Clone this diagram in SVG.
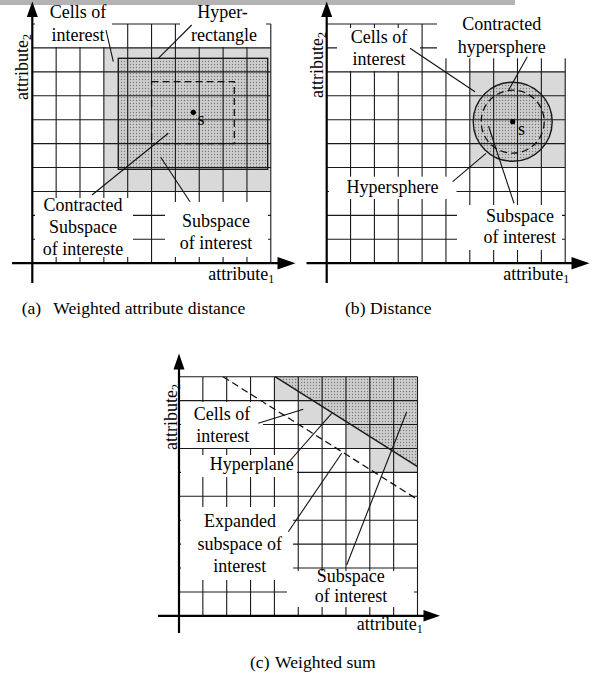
<svg xmlns="http://www.w3.org/2000/svg" xmlns:xlink="http://www.w3.org/1999/xlink" width="593" height="681" viewBox="0 0 593 681">
<style>
.grid{fill:none;stroke:#1a1a1a;stroke-width:1.1}
.axis{fill:none;stroke:#000;stroke-width:2.2}
.arrow{fill:#000;stroke:none}
.cells{fill:#d9d9d9;stroke:none}
.dots{fill:url(#stipple)}
.edge{fill:none;stroke:#1a1a1a;stroke-width:1.4}
.dash{fill:none;stroke:#111;stroke-width:1.3;stroke-dasharray:7,4}
.box{fill:#fff;stroke:none}
.lead{fill:none;stroke:#111;stroke-width:1.1}
text{font-family:"Liberation Serif","Times New Roman",serif;font-size:18px;fill:#000}
.c{text-anchor:middle}
.sub{font-size:12px}
.cap{font-size:17.6px}
</style>
<defs>
<pattern id="stipple" width="3" height="3" patternUnits="userSpaceOnUse">
<rect width="3" height="3" fill="#cdcdcd"/>
<circle cx="1.5" cy="1.5" r="0.7" fill="#7c7c7c"/>
</pattern>
<path id="gridlines" d="M23.85 0V239.2M47.7 0V239.2M71.55 0V239.2M95.4 0V239.2M119.25 0V239.2M143.1 0V239.2M166.95 0V239.2M190.8 0V239.2M214.65 0V239.2M238.5 0V239.2M0 0H238.5M0 23.92H238.5M0 47.84H238.5M0 71.76H238.5M0 95.68H238.5M0 119.6H238.5M0 143.52H238.5M0 167.44H238.5M0 191.36H238.5M0 215.28H238.5"/>
</defs>
<rect width="593" height="681" fill="#fff"/>

<!-- Panel (a) -->
<g id="panel-a">
<rect id="a-cells-of-interest" class="cells" x="103.85" y="47.92" width="166.95" height="143.52"/>
<rect id="a-hyperrectangle" class="dots" x="118.3" y="58.3" width="149.4" height="111"/>
<use xlink:href="#gridlines" class="grid" transform="translate(32.3,24)"/>
<rect class="edge" x="118.3" y="58.3" width="149.4" height="111"/>
<rect id="a-contracted" class="dash" x="151.55" y="81.7" width="82.75" height="61.9"/>
<circle id="a-s" cx="193.3" cy="112.3" r="2.6" fill="#000"/>
<text x="197.5" y="125">s</text>
<line class="axis" x1="32.3" y1="283" x2="32.3" y2="15"/>
<line class="axis" x1="12" y1="263.2" x2="280" y2="263.2"/>
<polygon class="arrow" points="295.5,263.2 277.5,257 277.5,269.5"/>
</g>

<!-- Panel (b) -->
<g id="panel-b">
<rect id="b-cells-of-interest" class="cells" x="469.8" y="71.84" width="95.4" height="95.68"/>
<circle id="b-hypersphere" class="dots" cx="512.7" cy="121.7" r="39.5"/>
<use xlink:href="#gridlines" class="grid" transform="translate(326.7,24)"/>
<circle class="edge" cx="512.7" cy="121.7" r="39.5"/>
<circle id="b-contracted" class="dash" cx="512.7" cy="121.7" r="31.5"/>
<circle id="b-s" cx="512.7" cy="121.7" r="2.6" fill="#000"/>
<text x="518" y="134.5">s</text>
<line class="axis" x1="326.7" y1="283" x2="326.7" y2="15"/>
<line class="axis" x1="306.5" y1="263.2" x2="574" y2="263.2"/>
<polygon class="arrow" points="589.5,263.2 571.5,257 571.5,269.5"/>
</g>

<!-- Panel (c) -->
<g id="panel-c">
<polygon id="c-cells-of-interest" class="cells" points="274.4,376.7 274.4,400.62 298.25,400.62 298.25,424.54 345.95,424.54 345.95,448.46 369.8,448.46 369.8,472.38 417.5,472.38 417.5,376.7"/>
<polygon id="c-subspace" class="dots" points="275,376.7 417.5,376.7 417.5,466.7"/>
<use xlink:href="#gridlines" class="grid" transform="translate(179,376.7)"/>
<line id="c-hyperplane" class="edge" x1="275" y1="376.7" x2="417.5" y2="466.7"/>
<line id="c-expanded" class="dash" x1="223" y1="376.7" x2="417.5" y2="499.5"/>
<line class="axis" x1="179" y1="633" x2="179" y2="368"/>
<polygon class="arrow" points="179,353.5 173.5,369.5 184.5,369.5"/>
<line class="axis" x1="158" y1="615.8" x2="425" y2="615.8"/>
<polygon class="arrow" points="440,615.8 423.5,610 423.5,621.6"/>
</g>

<!-- label backgrounds -->
<g id="label-boxes">
<rect class="box" x="35" y="3" width="77" height="44"/>
<rect class="box" x="180" y="3" width="86" height="44"/>
<rect class="box" x="35" y="198" width="98" height="59"/>
<rect class="box" x="165" y="202" width="103" height="55"/>
<rect class="box" x="337" y="28" width="83" height="43"/>
<rect class="box" x="437" y="0" width="135" height="58.3"/>
<rect class="box" x="329" y="176.7" width="127.5" height="22.3"/>
<rect class="box" x="457" y="205" width="105" height="45"/>
<rect class="box" x="181" y="402" width="82" height="46"/>
<rect class="box" x="181" y="455" width="116" height="22"/>
<rect class="box" x="181" y="507" width="112" height="73"/>
<rect class="box" x="287" y="571" width="127" height="36"/>
</g>

<rect id="top-bar" x="0" y="0" width="515" height="5" fill="#b3b3b3"/>
<polygon class="arrow" points="32.3,1.5 26.8,17 37.8,17"/>
<polygon class="arrow" points="326.7,1.5 321.2,17 332.2,17"/>

<!-- connectors -->
<g id="connectors">
<line class="lead" x1="106" y1="30" x2="113.3" y2="61.7"/>
<line class="lead" x1="191.7" y1="25" x2="158.3" y2="58.3"/>
<line class="lead" x1="92" y1="195" x2="168.3" y2="133.3"/>
<line class="lead" x1="160.7" y1="157.3" x2="190" y2="201.7"/>
<line class="lead" x1="410" y1="48.3" x2="475" y2="91.7"/>
<line class="lead" x1="527.3" y1="56.7" x2="508.3" y2="90.7"/>
<line class="lead" x1="452.7" y1="181.7" x2="486" y2="153.3"/>
<line class="lead" x1="514" y1="203.3" x2="488.5" y2="126"/>
<line class="lead" x1="258.3" y1="423.3" x2="303.3" y2="409.3"/>
<line class="lead" x1="288" y1="463" x2="331.7" y2="413.3"/>
<line class="lead" x1="288.3" y1="531.7" x2="341.7" y2="453.3"/>
<line class="lead" x1="346.7" y1="565" x2="406.7" y2="411.7"/>
</g>

<!-- labels -->
<g id="label-a-cells"><text class="c" x="78" y="18.3">Cells of</text><text class="c" x="78" y="40.5">interest</text></g>
<g id="label-a-hyper"><text class="c" x="222.5" y="18.3">Hyper-</text><text class="c" x="224" y="40.5">rectangle</text></g>
<g id="label-a-contracted"><text class="c" x="83" y="210.5">Contracted</text><text class="c" x="83" y="233">Subspace</text><text class="c" x="83" y="255">of intereste</text></g>
<g id="label-a-subspace"><text class="c" x="216" y="227">Subspace</text><text class="c" x="216" y="249">of interest</text></g>
<g id="label-a-axes"><text x="208.3" y="280">attribute<tspan class="sub" dy="3">1</tspan></text><text transform="translate(28,100) rotate(-90)">attribute<tspan class="sub" dy="3">2</tspan></text></g>

<g id="label-b-contracted"><text class="c" x="501.7" y="30">Contracted</text><text class="c" x="501.7" y="53">hypersphere</text></g>
<g id="label-b-cells"><text class="c" x="379" y="43">Cells of</text><text class="c" x="379" y="65">interest</text></g>
<g id="label-b-hypersphere"><text class="c" x="392.5" y="193.3">Hypersphere</text></g>
<g id="label-b-subspace"><text class="c" x="520" y="221.7">Subspace</text><text class="c" x="519.7" y="243.3">of interest</text></g>
<g id="label-b-axes"><text x="503.3" y="280">attribute<tspan class="sub" dy="3">1</tspan></text><text transform="translate(323,98) rotate(-90)">attribute<tspan class="sub" dy="3">2</tspan></text></g>

<g id="label-c-cells"><text class="c" x="222" y="420">Cells of</text><text class="c" x="222.7" y="441.7">interest</text></g>
<g id="label-c-hyperplane"><text class="c" x="251.7" y="470">Hyperplane</text></g>
<g id="label-c-expanded"><text class="c" x="240" y="526.7">Expanded</text><text class="c" x="239.7" y="550">subspace of</text><text class="c" x="239.7" y="571.7">interest</text></g>
<g id="label-c-subspace"><text class="c" x="350.8" y="581.7">Subspace</text><text class="c" x="351" y="601.7">of interest</text></g>
<g id="label-c-axes"><text x="356.7" y="630">attribute<tspan class="sub" dy="3">1</tspan></text><text transform="translate(177,450) rotate(-90)">attribute<tspan class="sub" dy="3">2</tspan></text></g>

<g id="captions">
<text class="cap" y="314"><tspan x="21.7">(a)</tspan><tspan x="53.3">Weighted attribute distance</tspan></text>
<text class="cap" y="314"><tspan x="345">(b)</tspan><tspan x="370">Distance</tspan></text>
<text class="cap" y="668"><tspan x="250">(c)</tspan><tspan x="275">Weighted sum</tspan></text>
</g>
</svg>
